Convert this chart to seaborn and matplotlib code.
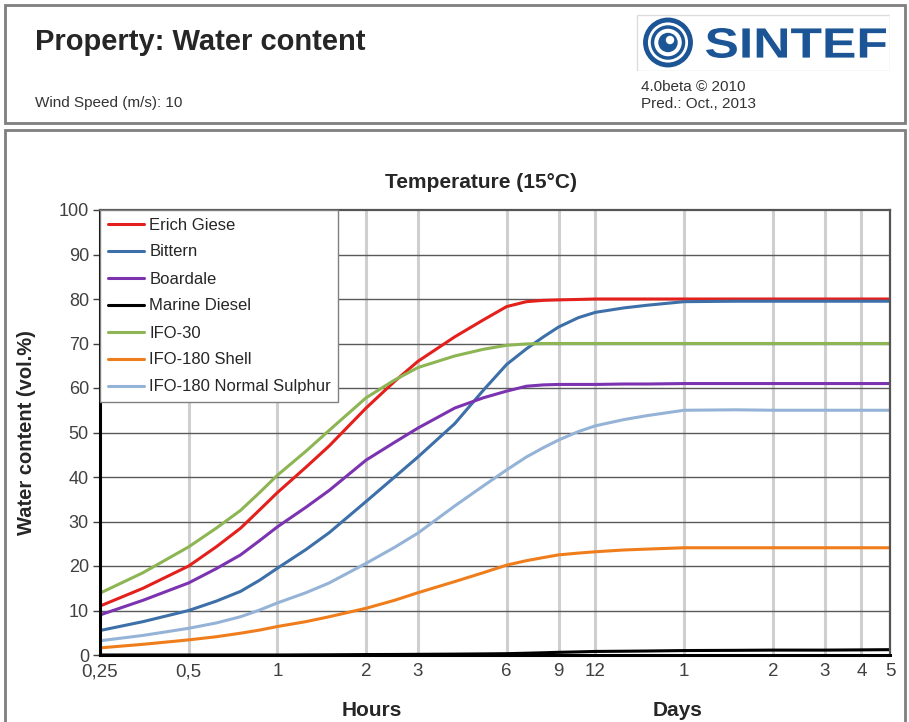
import numpy as np
import pandas as pd
import matplotlib
matplotlib.use("Agg")
import matplotlib.pyplot as plt
from matplotlib.patches import Rectangle, Circle, PathPatch
from matplotlib.textpath import TextPath
from matplotlib.font_manager import FontProperties
from matplotlib.transforms import Affine2D
import seaborn as sns

# time axis in hours (0.25 h .. 5 days)
hours = [0.25, 0.35, 0.5, 0.62, 0.75, 0.87, 1, 1.25, 1.5, 2, 2.5, 3, 4, 5, 6, 7, 8, 9, 10.5, 12, 15, 18, 24, 36, 48, 72, 96, 120]

erich_giese = [11, 15, 20, 24.3, 28.5, 32.6, 36.5, 42.2, 47, 55.5, 61.5, 66, 71.5, 75.3, 78.3, 79.4, 79.7, 79.8, 79.9, 80, 80, 80, 80, 80, 80, 80, 80, 80]
bittern = [5.5, 7.5, 10, 12.1, 14.3, 16.8, 19.5, 23.7, 27.5, 34.5, 40, 44.5, 52, 59.5, 65.3, 68.8, 71.5, 73.7, 75.8, 77, 78, 78.6, 79.4, 79.5, 79.5, 79.5, 79.5, 79.5]
boardale = [9, 12.3, 16.2, 19.4, 22.5, 25.7, 28.8, 33.2, 37, 43.8, 47.8, 51, 55.5, 57.8, 59.3, 60.4, 60.7, 60.8, 60.8, 60.8, 60.9, 60.9, 61, 61, 61, 61, 61, 61]
marine_diesel = [0, 0, 0, 0, 0, 0, 0, 0.03, 0.05, 0.1, 0.12, 0.15, 0.2, 0.25, 0.3, 0.4, 0.5, 0.6, 0.7, 0.8, 0.85, 0.9, 1, 1.05, 1.1, 1.1, 1.15, 1.2]
ifo_30 = [13.9, 18.5, 24.3, 28.5, 32.5, 36.5, 40.4, 45.8, 50.5, 57.8, 61.8, 64.6, 67.2, 68.7, 69.6, 69.9, 70, 70, 70, 70, 70, 70, 70, 70, 70, 70, 70, 70]
ifo_180_shell = [1.6, 2.4, 3.4, 4.1, 4.9, 5.6, 6.4, 7.5, 8.6, 10.5, 12.3, 14, 16.5, 18.5, 20.2, 21.2, 21.9, 22.5, 22.9, 23.2, 23.6, 23.8, 24.1, 24.1, 24.1, 24.1, 24.1, 24.1]
ifo_180_ns = [3.2, 4.4, 6, 7.2, 8.6, 10.1, 11.7, 14, 16.2, 20.6, 24.2, 27.4, 33.5, 38, 41.6, 44.5, 46.6, 48.3, 50.2, 51.5, 52.9, 53.8, 55, 55.1, 55, 55, 55, 55]

oil_names = ["Erich Giese", "Bittern", "Boardale", "Marine Diesel",
             "IFO-30", "IFO-180 Shell", "IFO-180 Normal Sulphur"]
oil_colors = ["#e3201b", "#3d6fa8", "#7b33b0", "#000000",
              "#8db554", "#f07d1c", "#95b3d7"]

tick_hours = [0.25, 0.5, 1, 2, 3, 6, 9, 12, 24, 48, 72, 96, 120]
tick_labels = ["0,25", "0,5", "1", "2", "3", "6", "9", "12", "1", "2", "3", "4", "5"]

series = [erich_giese, bittern, boardale, marine_diesel, ifo_30, ifo_180_shell, ifo_180_ns]
df = pd.concat([pd.DataFrame({"hours": hours, "water": vals, "oil": name})
                for name, vals in zip(oil_names, series)], ignore_index=True)

sns.set_style("white")
plt.rcParams["font.family"] = ["Liberation Sans", "DejaVu Sans"]

W, H = 909, 722
fig = plt.figure(figsize=(W / 100, H / 100), dpi=100)


def px_rect(x0, y0, x1, y1, **kw):
    # rectangle given in pixel coords (top-left origin)
    fig.patches.append(Rectangle((x0 / W, 1 - y1 / H), (x1 - x0) / W, (y1 - y0) / H,
                                 transform=fig.transFigure, fill=False, **kw))


# header and chart frames
px_rect(5, 5, 905, 123, edgecolor="#7f7f7f", lw=2)
px_rect(5, 130, 905, 740, edgecolor="#7f7f7f", lw=2)

fig.text(35 / W, 1 - 42 / H, "Property: Water content", fontsize=21, fontweight="bold",
         va="center", ha="left")
fig.text(35 / W, 1 - 103 / H, "Wind Speed (m/s): 10", fontsize=11, va="center", ha="left",
         color="#333333")
fig.text(641 / W, 1 - 87 / H, "4.0beta \u00a9 2010", fontsize=11, va="center", ha="left",
         color="#333333")
fig.text(641 / W, 1 - 104 / H, "Pred.: Oct., 2013", fontsize=11, va="center", ha="left",
         color="#333333")

# SINTEF logo (pixel units inside its own axes)
lax = fig.add_axes([636 / W, 1 - 71 / H, 254 / W, 57 / H])
lax.set_xlim(0, 254)
lax.set_ylim(0, 57)
lax.axis("off")
lax.add_patch(Rectangle((0.5, 0.5), 253, 56, fill=False, edgecolor="#dddddd", lw=1))
blue = "#1c5596"
lax.add_patch(Circle((32, 28.5), 22.5, fill=False, edgecolor=blue, lw=3.5))
lax.add_patch(Circle((32, 28.5), 15.5, fill=False, edgecolor=blue, lw=2.5))
lax.add_patch(Circle((32, 28.5), 9, color=blue))
lax.add_patch(Circle((34, 31), 3.5, color="white"))
tp = TextPath((0, 0), "SINTEF", size=30, prop=FontProperties(family="Liberation Sans", weight="bold"))
bb = tp.get_extents()
tr = Affine2D().translate(-bb.x0, -bb.y0).scale(180 / bb.width, 30 / bb.height).translate(70, 13)
lax.add_patch(PathPatch(tr.transform_path(tp), color=blue, lw=0))

# main chart
ax = fig.add_axes([100 / W, 1 - 655 / H, 790 / W, 445 / H])
sns.lineplot(data=df, x="hours", y="water", hue="oil", hue_order=oil_names,
             palette=oil_colors, linewidth=2.2, ax=ax, sort=False)
ax.set_xscale("log")
ax.set_xlim(0.25, 120)
ax.set_ylim(0, 100)
ax.set_yticks(range(0, 101, 10))
ax.set_xticks(tick_hours)
ax.set_xticklabels(tick_labels)
ax.minorticks_off()
ax.tick_params(axis="y", length=5, width=1, color="#404040", labelsize=13,
               labelcolor="#404040", pad=3, left=True)
ax.tick_params(axis="x", length=0, labelsize=13.5, labelcolor="#404040", pad=6)

for h in tick_hours[1:-1]:
    ax.axvline(h, color="#cfcfcf", lw=2.2, zorder=0)
for v in range(10, 100, 10):
    ax.axhline(v, color="#5a5a5a", lw=1, zorder=0)

for side in ["left", "bottom"]:
    ax.spines[side].set_color("black")
    ax.spines[side].set_linewidth(2.2)
for side in ["top", "right"]:
    ax.spines[side].set_color("#555555")
    ax.spines[side].set_linewidth(1.6)

ax.set_xlabel("")
ax.set_ylabel("Water content (vol.%)", fontsize=14.5, fontweight="bold", labelpad=16)
fig.text(481 / W, 1 - 182 / H, "Temperature (15\u00b0C)", fontsize=15, fontweight="bold",
         ha="center", va="center")

sns.move_legend(ax, "upper left", bbox_to_anchor=(0, 1), borderaxespad=0,
                title=None, frameon=True, fancybox=False, framealpha=1,
                edgecolor="#808080", fontsize=12, handlelength=2.2,
                labelspacing=0.72, handletextpad=0.3, borderpad=0.45)
ax.get_legend().get_frame().set_linewidth(1)

fig.text(372 / W, 1 - 710 / H, "Hours", fontsize=15, fontweight="bold", ha="center", va="center")
fig.text(678 / W, 1 - 710 / H, "Days", fontsize=15, fontweight="bold", ha="center", va="center")

fig.savefig("out.png", dpi=100)
